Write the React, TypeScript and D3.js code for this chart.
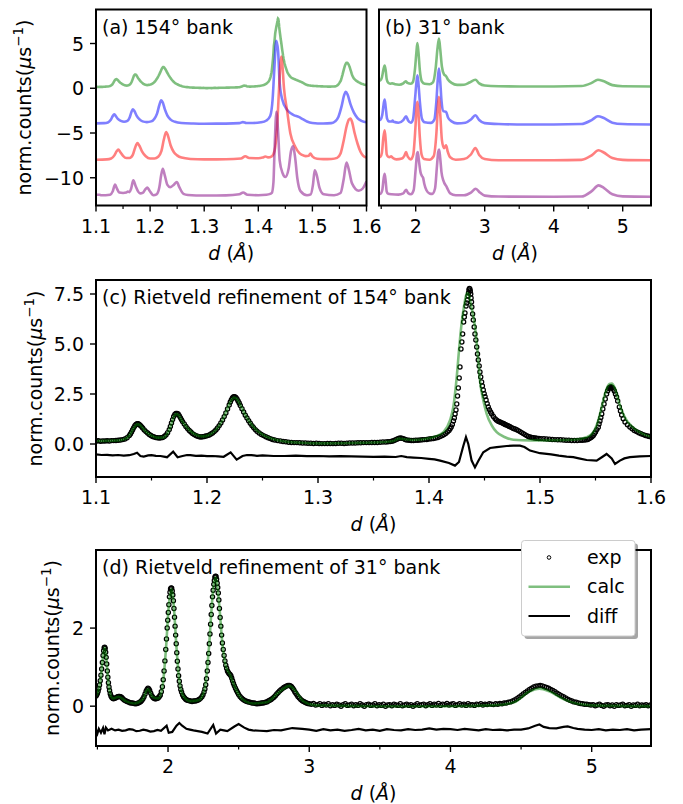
import React from "react";
import * as d3 from "d3";

type P = [number, number];

const FONT = "'DejaVu Sans', sans-serif";
const FS = 19;

// ---------- 154° bank ----------
const exp154: P[] = [
  [1.1, 0.15], [1.102, 0.16], [1.104, 0.14], [1.106, 0.15], [1.108, 0.15], [1.11, 0.16], [1.112, 0.15],
  [1.114, 0.17], [1.116, 0.17], [1.118, 0.18], [1.12, 0.19], [1.122, 0.2], [1.124, 0.22], [1.126, 0.25],
  [1.128, 0.31], [1.13, 0.42], [1.131, 0.5], [1.132, 0.6], [1.133, 0.71], [1.134, 0.82], [1.135, 0.91],
  [1.136, 0.98], [1.137, 1.01], [1.138, 1.02], [1.139, 0.98], [1.14, 0.93], [1.141, 0.87], [1.142, 0.8],
  [1.1435, 0.7], [1.145, 0.62], [1.1465, 0.55], [1.148, 0.48], [1.1495, 0.43], [1.151, 0.38], [1.1525, 0.35],
  [1.154, 0.32], [1.1555, 0.31], [1.157, 0.3], [1.1585, 0.31], [1.16, 0.33], [1.1615, 0.38], [1.163, 0.45],
  [1.1645, 0.56], [1.166, 0.72], [1.167, 0.88], [1.168, 1.05], [1.169, 1.22], [1.17, 1.38], [1.171, 1.48],
  [1.172, 1.53], [1.173, 1.53], [1.174, 1.5], [1.175, 1.42], [1.176, 1.32], [1.177, 1.22], [1.178, 1.12],
  [1.1795, 1.0], [1.181, 0.88], [1.1825, 0.77], [1.184, 0.68], [1.1855, 0.6], [1.187, 0.52], [1.1885, 0.47],
  [1.19, 0.42], [1.1915, 0.39], [1.193, 0.36], [1.1945, 0.35], [1.196, 0.36], [1.1975, 0.38], [1.199, 0.4],
  [1.2005, 0.42], [1.202, 0.45], [1.2035, 0.5], [1.205, 0.55], [1.2065, 0.62], [1.208, 0.7], [1.2095, 0.8],
  [1.211, 0.92], [1.2125, 1.05], [1.214, 1.2], [1.2155, 1.37], [1.217, 1.55], [1.2185, 1.75], [1.22, 1.95],
  [1.221, 2.1], [1.222, 2.22], [1.223, 2.31], [1.224, 2.37], [1.225, 2.37], [1.226, 2.33], [1.227, 2.25],
  [1.228, 2.15], [1.229, 2.05], [1.23, 1.93], [1.2315, 1.76], [1.233, 1.6], [1.2345, 1.44], [1.236, 1.3],
  [1.2375, 1.16], [1.239, 1.04], [1.2405, 0.92], [1.242, 0.82], [1.2435, 0.72], [1.245, 0.64], [1.247, 0.55],
  [1.249, 0.48], [1.251, 0.42], [1.253, 0.36], [1.255, 0.31], [1.257, 0.27], [1.259, 0.23], [1.261, 0.2],
  [1.2635, 0.17], [1.266, 0.15], [1.2685, 0.13], [1.271, 0.11], [1.2735, 0.09], [1.276, 0.08], [1.2785, 0.07],
  [1.281, 0.07], [1.2835, 0.06], [1.286, 0.05], [1.2885, 0.05], [1.291, 0.04], [1.2935, 0.04], [1.296, 0.03],
  [1.2985, 0.04], [1.301, 0.03], [1.3035, 0.02], [1.306, 0.02], [1.3085, 0.03], [1.311, 0.03], [1.3135, 0.02],
  [1.316, 0.03], [1.3185, 0.04], [1.321, 0.04], [1.3235, 0.03], [1.326, 0.04], [1.3285, 0.05], [1.331, 0.05],
  [1.3335, 0.05], [1.336, 0.06], [1.3385, 0.06], [1.341, 0.07], [1.3435, 0.07], [1.346, 0.07], [1.3485, 0.08],
  [1.351, 0.08], [1.3535, 0.08], [1.356, 0.09], [1.3585, 0.1], [1.361, 0.1], [1.363, 0.11], [1.365, 0.12],
  [1.3665, 0.14], [1.368, 0.16], [1.3695, 0.2], [1.371, 0.24], [1.3725, 0.28], [1.374, 0.3], [1.3755, 0.29],
  [1.377, 0.27], [1.3785, 0.23], [1.38, 0.2], [1.382, 0.19], [1.384, 0.18], [1.386, 0.18], [1.388, 0.19],
  [1.39, 0.19], [1.392, 0.2], [1.394, 0.21], [1.396, 0.22], [1.398, 0.23], [1.4, 0.25], [1.402, 0.26],
  [1.404, 0.28], [1.406, 0.3], [1.408, 0.33], [1.41, 0.37], [1.412, 0.42], [1.4135, 0.47], [1.415, 0.52],
  [1.4165, 0.6], [1.418, 0.68], [1.419, 0.76], [1.42, 0.85], [1.421, 0.98], [1.422, 1.15], [1.4228, 1.3],
  [1.4235, 1.5], [1.4243, 1.7], [1.425, 2.0], [1.4257, 2.4], [1.4264, 2.8], [1.4272, 3.3], [1.4279, 3.85],
  [1.4288, 4.75], [1.4296, 5.1], [1.4303, 5.5], [1.4312, 6.1], [1.4318, 6.35], [1.4324, 6.55], [1.4334, 6.9],
  [1.434, 7.05], [1.4346, 7.2], [1.4351, 7.4], [1.4356, 7.55], [1.436, 7.7], [1.4364, 7.78], [1.4368, 7.75],
  [1.4372, 7.65], [1.4376, 7.5], [1.4379, 7.3], [1.4383, 7.1], [1.4386, 6.85], [1.4393, 6.5], [1.4399, 6.2],
  [1.4407, 5.85], [1.4414, 5.5], [1.4422, 5.2], [1.443, 4.85], [1.4437, 4.5], [1.4444, 4.2], [1.4452, 3.9],
  [1.4459, 3.6], [1.4466, 3.35], [1.4474, 3.1], [1.4481, 2.9], [1.4489, 2.7], [1.4497, 2.52], [1.4505, 2.37],
  [1.4514, 2.2], [1.4524, 2.02], [1.4534, 1.85], [1.4544, 1.72], [1.4555, 1.6], [1.4565, 1.5], [1.458, 1.38],
  [1.4595, 1.27], [1.4607, 1.2], [1.462, 1.15], [1.463, 1.12], [1.464, 1.1], [1.4652, 1.07], [1.4665, 1.04],
  [1.4675, 1.01], [1.4685, 0.98], [1.4697, 0.95], [1.471, 0.92], [1.472, 0.89], [1.473, 0.86], [1.4745, 0.82],
  [1.476, 0.78], [1.4775, 0.75], [1.479, 0.71], [1.4805, 0.67], [1.482, 0.62], [1.4835, 0.57], [1.485, 0.52],
  [1.4865, 0.47], [1.488, 0.42], [1.4895, 0.38], [1.491, 0.35], [1.4925, 0.33], [1.494, 0.31], [1.4955, 0.3],
  [1.497, 0.29], [1.499, 0.28], [1.501, 0.27], [1.5035, 0.26], [1.506, 0.25], [1.5085, 0.24], [1.511, 0.23],
  [1.5135, 0.22], [1.516, 0.21], [1.5185, 0.21], [1.521, 0.2], [1.5235, 0.19], [1.526, 0.19], [1.5285, 0.18],
  [1.531, 0.18], [1.5335, 0.18], [1.536, 0.19], [1.538, 0.19], [1.54, 0.2], [1.5415, 0.21], [1.543, 0.23],
  [1.5445, 0.27], [1.546, 0.32], [1.547, 0.37], [1.548, 0.43], [1.549, 0.51], [1.55, 0.6], [1.5512, 0.72],
  [1.5525, 0.84], [1.5532, 1.0], [1.554, 1.15], [1.5548, 1.32], [1.5556, 1.5], [1.5566, 1.75], [1.5577, 2.0],
  [1.5588, 2.25], [1.56, 2.5], [1.561, 2.66], [1.562, 2.78], [1.5627, 2.83], [1.5635, 2.85], [1.5642, 2.85],
  [1.565, 2.82], [1.566, 2.75], [1.567, 2.65], [1.568, 2.5], [1.569, 2.35], [1.57, 2.15], [1.5715, 1.85],
  [1.5725, 1.65], [1.5736, 1.45], [1.575, 1.26], [1.5766, 1.1], [1.5788, 0.96], [1.581, 0.85], [1.583, 0.76],
  [1.585, 0.68], [1.587, 0.62], [1.589, 0.56], [1.591, 0.51], [1.593, 0.47], [1.595, 0.43], [1.597, 0.4],
  [1.5985, 0.38], [1.6, 0.36],
];

const calc154: P[] = [
  [1.1, 0.15], [1.12, 0.18], [1.126, 0.25], [1.13, 0.42], [1.134, 0.8], [1.137, 0.98], [1.139, 0.97],
  [1.142, 0.8], [1.146, 0.56], [1.15, 0.42], [1.155, 0.32], [1.16, 0.32], [1.164, 0.5], [1.167, 0.85],
  [1.17, 1.35], [1.172, 1.5], [1.174, 1.46], [1.177, 1.2], [1.181, 0.88], [1.186, 0.6], [1.191, 0.44],
  [1.196, 0.38], [1.202, 0.45], [1.208, 0.7], [1.214, 1.2], [1.219, 1.85], [1.222, 2.2], [1.2245, 2.32],
  [1.227, 2.25], [1.23, 1.95], [1.235, 1.4], [1.24, 0.98], [1.246, 0.62], [1.253, 0.38], [1.261, 0.22],
  [1.271, 0.12], [1.285, 0.06], [1.3, 0.03], [1.33, 0.05], [1.36, 0.1], [1.368, 0.15], [1.373, 0.27],
  [1.378, 0.24], [1.385, 0.2], [1.395, 0.24], [1.405, 0.36], [1.4129, 0.59], [1.4189, 1.18], [1.4219, 1.85],
  [1.425, 3.36], [1.4273, 4.86], [1.4294, 6.04], [1.4315, 6.87], [1.433, 7.35], [1.4345, 7.55], [1.436, 7.45],
  [1.438, 6.9], [1.4399, 6.4], [1.4414, 5.87], [1.4444, 4.2], [1.4459, 3.19], [1.4489, 2.19], [1.4519, 1.52],
  [1.4565, 0.93], [1.461, 0.59], [1.4685, 0.34], [1.476, 0.21], [1.491, 0.18], [1.506, 0.18], [1.53, 0.21],
  [1.542, 0.34], [1.548, 0.59], [1.5525, 1.18], [1.5556, 1.85], [1.5586, 2.52], [1.5625, 3.0], [1.5646, 3.02],
  [1.5676, 2.77], [1.5706, 2.19], [1.5736, 1.68], [1.5781, 1.18], [1.581, 0.98], [1.586, 0.72], [1.592, 0.52],
  [1.6, 0.36],
];

const diff154: P[] = [
  [1.1, -0.52], [1.105, -0.55], [1.11, -0.54], [1.115, -0.57], [1.12, -0.55], [1.125, -0.58], [1.13, -0.56],
  [1.134, -0.5], [1.137, -0.44], [1.14, -0.6], [1.143, -0.63], [1.147, -0.57], [1.15, -0.56], [1.154, -0.59],
  [1.158, -0.6], [1.164, -0.66], [1.1695, -0.38], [1.1735, -0.66], [1.178, -0.6], [1.182, -0.55], [1.185, -0.56],
  [1.19, -0.59], [1.195, -0.58], [1.2, -0.61], [1.205, -0.6], [1.21, -0.62], [1.215, -0.64], [1.2213, -0.42],
  [1.2267, -0.78], [1.232, -0.6], [1.236, -0.55], [1.24, -0.56], [1.245, -0.59], [1.25, -0.57], [1.26, -0.6],
  [1.27, -0.6], [1.28, -0.58], [1.29, -0.61], [1.3, -0.6], [1.31, -0.62], [1.32, -0.61], [1.33, -0.62],
  [1.34, -0.63], [1.35, -0.64], [1.36, -0.63], [1.37, -0.65], [1.375, -0.6], [1.38, -0.66], [1.386, -0.68],
  [1.393, -0.7], [1.4, -0.74], [1.405, -0.77], [1.41, -0.83], [1.418, -0.95], [1.4234, -1.08], [1.427, -0.9],
  [1.4309, -0.1], [1.4333, 0.34], [1.4354, 0.0], [1.4384, -0.83], [1.4414, -1.17], [1.4444, -0.85],
  [1.4489, -0.41], [1.455, -0.2], [1.461, -0.16], [1.47, -0.1], [1.476, -0.08], [1.482, -0.08], [1.486, -0.15],
  [1.491, -0.33], [1.5, -0.46], [1.51, -0.52], [1.517, -0.58], [1.524, -0.63], [1.53, -0.66], [1.535, -0.72],
  [1.542, -0.8], [1.551, -0.83], [1.556, -0.65], [1.56, -0.5], [1.5646, -0.72], [1.5676, -1.0], [1.572, -0.83],
  [1.576, -0.72], [1.581, -0.66], [1.59, -0.62], [1.6, -0.6],
];

const blue154: P[] = [
  [1.1, 0.08], [1.115, 0.1], [1.122, 0.18], [1.127, 0.45], [1.131, 0.9], [1.1335, 1.1], [1.136, 0.95],
  [1.14, 0.6], [1.146, 0.35], [1.152, 0.25], [1.158, 0.35], [1.162, 0.7], [1.1655, 1.35], [1.168, 1.65],
  [1.171, 1.45], [1.175, 0.95], [1.18, 0.55], [1.186, 0.3], [1.194, 0.22], [1.202, 0.3], [1.208, 0.6],
  [1.213, 1.2], [1.217, 2.1], [1.2205, 2.65], [1.2235, 2.4], [1.227, 1.7], [1.232, 0.95], [1.238, 0.5],
  [1.246, 0.25], [1.258, 0.12], [1.28, 0.06], [1.3, 0.04], [1.34, 0.05], [1.365, 0.1], [1.3716, 0.22],
  [1.378, 0.12], [1.39, 0.12], [1.405, 0.2], [1.415, 0.4], [1.422, 0.9], [1.4265, 2.8], [1.4295, 6.0],
  [1.4333, 9.3], [1.4365, 8.2], [1.4395, 4.6], [1.444, 2.8], [1.4531, 1.6], [1.46, 1.2], [1.4655, 1.0],
  [1.4747, 0.8], [1.482, 0.55], [1.49, 0.28], [1.5, 0.12], [1.52, 0.06], [1.535, 0.1], [1.542, 0.3],
  [1.548, 0.8], [1.554, 2.0], [1.5585, 3.2], [1.5617, 3.6], [1.565, 3.3], [1.5705, 2.2], [1.5765, 1.3],
  [1.583, 0.7], [1.589, 0.4], [1.595, 0.25], [1.6, 0.2],
];

const red154: P[] = [
  [1.1, 0.02], [1.12, 0.05], [1.128, 0.15], [1.134, 0.5], [1.138, 0.95], [1.1413, 1.14], [1.145, 0.85],
  [1.15, 0.45], [1.156, 0.2], [1.162, 0.2], [1.168, 0.55], [1.172, 1.3], [1.1765, 1.88], [1.18, 1.6],
  [1.185, 0.95], [1.192, 0.4], [1.2, 0.15], [1.208, 0.15], [1.215, 0.35], [1.221, 1.0], [1.2255, 2.3],
  [1.2296, 3.12], [1.233, 2.7], [1.238, 1.6], [1.244, 0.85], [1.2499, 0.5], [1.258, 0.25], [1.2746, 0.1],
  [1.3, 0.05], [1.34, 0.06], [1.368, 0.15], [1.376, 0.4], [1.383, 0.2], [1.4, 0.18], [1.408, 0.25],
  [1.413, 0.38], [1.418, 0.28], [1.425, 0.4], [1.43, 1.0], [1.4345, 3.5], [1.438, 7.5], [1.441, 10.8],
  [1.4425, 11.55], [1.4445, 10.6], [1.4475, 8.0], [1.4531, 5.55], [1.4593, 2.94], [1.4685, 1.44],
  [1.476, 0.75], [1.481, 0.55], [1.4875, 0.42], [1.4932, 0.45], [1.4963, 0.7], [1.5, 0.4], [1.5086, 0.12],
  [1.52, 0.08], [1.535, 0.1], [1.5457, 0.22], [1.552, 0.7], [1.558, 2.2], [1.563, 3.7], [1.5675, 4.5],
  [1.5704, 4.62], [1.5735, 4.2], [1.578, 3.0], [1.5835, 1.8], [1.5889, 0.9], [1.594, 0.45], [1.6, 0.25],
];

const purple154: P[] = [
  [1.1, 0.1], [1.106, 0.1], [1.11, 0.05], [1.118, 0.05], [1.126, 0.1], [1.131, 0.5], [1.1352, 1.23],
  [1.139, 0.75], [1.143, 0.35], [1.15, 0.3], [1.156, 0.35], [1.159, 0.45], [1.162, 0.4], [1.165, 0.8],
  [1.169, 1.71], [1.173, 1.1], [1.178, 0.45], [1.1815, 0.25], [1.187, 0.35], [1.191, 0.7], [1.195, 0.9],
  [1.199, 0.55], [1.2062, 0.05], [1.212, 0.15], [1.217, 0.9], [1.2205, 2.3], [1.2235, 3.0], [1.227, 2.3],
  [1.232, 1.2], [1.237, 0.95], [1.2435, 1.2], [1.2494, 1.52], [1.254, 0.95], [1.2617, 0.2], [1.27, 0.08],
  [1.3, 0.02], [1.34, 0.03], [1.365, 0.15], [1.372, 0.35], [1.38, 0.1], [1.4, 0.05], [1.415, 0.1],
  [1.422, 0.2], [1.425, 0.3], [1.428, 1.5], [1.43, 5.0], [1.4318, 8.0], [1.4333, 9.36], [1.4365, 7.2],
  [1.4395, 3.95], [1.445, 2.5], [1.45, 2.08], [1.456, 3.0], [1.4605, 5.0], [1.4642, 5.51], [1.468, 4.3],
  [1.472, 2.0], [1.478, 0.5], [1.49, 0.05], [1.497, 0.15], [1.501, 1.2], [1.5043, 2.83], [1.508, 2.3],
  [1.513, 0.9], [1.521, 0.15], [1.54, 0.05], [1.552, 0.3], [1.558, 1.9], [1.563, 3.69], [1.567, 3.0],
  [1.573, 1.4], [1.5857, 0.55], [1.593, 0.8], [1.6, 1.6],
];

// ---------- 31° bank ----------
const green31: P[] = [
  [1.47, 0.85], [1.49, 0.9], [1.51, 1.2], [1.53, 2.0], [1.55, 2.55], [1.565, 2.0], [1.58, 1.0], [1.6, 0.62],
  [1.63, 0.5], [1.66, 0.55], [1.7, 0.45], [1.76, 0.4], [1.82, 0.55], [1.855, 0.78], [1.88, 0.6], [1.93, 0.5],
  [1.96, 0.7], [1.99, 2.2], [2.01, 4.0], [2.024, 5.05], [2.04, 4.0], [2.06, 2.0], [2.09, 0.75], [2.13, 0.5],
  [2.2, 0.45], [2.25, 0.65], [2.29, 2.3], [2.315, 4.4], [2.337, 5.55], [2.355, 4.4], [2.38, 2.4], [2.41, 1.55],
  [2.44, 1.35], [2.47, 0.95], [2.52, 0.6], [2.6, 0.38], [2.7, 0.4], [2.78, 0.65], [2.865, 0.95], [2.92, 0.55],
  [3.0, 0.3], [3.2, 0.22], [3.5, 0.2], [4.0, 0.2], [4.4, 0.25], [4.55, 0.6], [4.64, 0.95], [4.72, 0.8],
  [4.85, 0.35], [5.0, 0.22], [5.41, 0.2],
];

const blue31: P[] = [
  [1.47, 0.45], [1.49, 0.5], [1.515, 1.0], [1.535, 2.2], [1.55, 2.74], [1.565, 1.9], [1.585, 0.6],
  [1.61, 0.3], [1.65, 0.28], [1.665, 0.38], [1.68, 0.25], [1.75, 0.15], [1.82, 0.45], [1.86, 0.87],
  [1.89, 0.4], [1.93, 0.15], [1.96, 0.5], [1.99, 2.8], [2.01, 4.6], [2.025, 5.46], [2.04, 4.5], [2.06, 2.5],
  [2.09, 0.6], [2.13, 0.2], [2.22, 0.13], [2.27, 0.5], [2.3, 2.6], [2.32, 5.0], [2.337, 6.2], [2.355, 4.8],
  [2.375, 2.5], [2.4, 1.45], [2.44, 1.36], [2.47, 0.7], [2.52, 0.3], [2.6, 0.08], [2.72, 0.15], [2.8, 0.5],
  [2.865, 0.99], [2.92, 0.45], [3.0, 0.1], [3.2, 0.0], [3.6, -0.05], [4.0, -0.05], [4.4, 0.0], [4.55, 0.45],
  [4.64, 0.87], [4.72, 0.7], [4.85, 0.15], [5.0, 0.0], [5.41, -0.05],
];

const red31: P[] = [
  [1.47, 0.3], [1.49, 0.35], [1.51, 0.8], [1.53, 2.4], [1.55, 3.31], [1.565, 2.2], [1.58, 0.6], [1.6, 0.35],
  [1.62, 0.3], [1.645, 0.4], [1.67, 0.2], [1.72, 0.05], [1.8, 0.15], [1.835, 0.45], [1.86, 0.87],
  [1.885, 0.35], [1.93, 0.05], [1.965, 0.6], [1.995, 3.5], [2.012, 5.8], [2.025, 6.48], [2.04, 5.2],
  [2.06, 2.5], [2.085, 0.6], [2.12, 0.1], [2.2, 0.02], [2.26, 0.4], [2.3, 3.0], [2.322, 6.0], [2.337, 7.04],
  [2.355, 5.2], [2.38, 2.2], [2.41, 1.3], [2.44, 1.63], [2.465, 0.9], [2.5, 0.3], [2.58, 0.02], [2.7, 0.1],
  [2.8, 0.6], [2.865, 1.33], [2.92, 0.55], [3.0, 0.1], [3.2, -0.05], [4.0, -0.05], [4.4, 0.0], [4.55, 0.5],
  [4.65, 1.07], [4.72, 0.85], [4.85, 0.2], [5.0, 0.0], [5.41, -0.05],
];

const purple31: P[] = [
  [1.47, 0.2], [1.49, 0.22], [1.515, 0.6], [1.535, 1.9], [1.55, 2.45], [1.565, 1.6], [1.58, 0.45],
  [1.6, 0.2], [1.65, 0.15], [1.75, 0.12], [1.82, 0.25], [1.86, 0.66], [1.89, 0.3], [1.93, 0.15], [1.97, 0.6],
  [2.0, 3.0], [2.02, 4.7], [2.03, 4.88], [2.045, 4.0], [2.07, 2.6], [2.09, 2.2], [2.107, 2.0], [2.125, 1.3],
  [2.156, 0.6], [2.2, 0.25], [2.24, 0.2], [2.28, 0.8], [2.31, 3.5], [2.327, 4.9], [2.34, 5.14], [2.355, 4.2],
  [2.374, 2.6], [2.4, 1.7], [2.45, 0.96], [2.5, 0.25], [2.58, 0.05], [2.7, 0.05], [2.8, 0.35], [2.87, 0.77],
  [2.93, 0.35], [3.0, 0.0], [3.2, -0.1], [4.0, -0.12], [4.4, -0.1], [4.55, 0.5], [4.65, 1.15], [4.73, 0.85],
  [4.85, 0.15], [5.0, -0.08], [5.41, -0.12],
];

const exp31: P[] = [
  [1.49, 0.26], [1.495, 0.29], [1.5, 0.33], [1.505, 0.38], [1.51, 0.45], [1.515, 0.54], [1.52, 0.65],
  [1.525, 0.79], [1.53, 0.95], [1.535, 1.12], [1.54, 1.3], [1.544, 1.42], [1.548, 1.5], [1.5515, 1.51],
  [1.555, 1.48], [1.5585, 1.38], [1.562, 1.25], [1.566, 1.08], [1.57, 0.9], [1.574, 0.74], [1.578, 0.6],
  [1.582, 0.49], [1.586, 0.4], [1.591, 0.32], [1.596, 0.26], [1.602, 0.22], [1.608, 0.2], [1.614, 0.19],
  [1.62, 0.2], [1.6275, 0.21], [1.635, 0.22], [1.6425, 0.24], [1.65, 0.25], [1.6575, 0.25], [1.665, 0.24],
  [1.6725, 0.22], [1.68, 0.19], [1.69, 0.16], [1.7, 0.14], [1.71, 0.12], [1.72, 0.11], [1.73, 0.09],
  [1.74, 0.08], [1.75, 0.08], [1.76, 0.07], [1.77, 0.06], [1.78, 0.07], [1.79, 0.08], [1.8, 0.1],
  [1.8075, 0.12], [1.815, 0.15], [1.8225, 0.19], [1.83, 0.24], [1.8375, 0.31], [1.845, 0.38], [1.8515, 0.43],
  [1.858, 0.46], [1.864, 0.44], [1.87, 0.4], [1.8775, 0.33], [1.885, 0.27], [1.8925, 0.23], [1.9, 0.2],
  [1.9075, 0.19], [1.915, 0.19], [1.9225, 0.2], [1.93, 0.21], [1.9375, 0.24], [1.945, 0.28], [1.9525, 0.37],
  [1.96, 0.5], [1.966, 0.68], [1.972, 0.9], [1.978, 1.16], [1.984, 1.45], [1.989, 1.72], [1.994, 2.0],
  [1.998, 2.2], [2.002, 2.4], [2.006, 2.6], [2.01, 2.8], [2.014, 2.92], [2.018, 3.0], [2.022, 3.03],
  [2.026, 3.02], [2.03, 2.95], [2.034, 2.85], [2.038, 2.7], [2.042, 2.5], [2.046, 2.28], [2.05, 2.05],
  [2.054, 1.82], [2.058, 1.6], [2.062, 1.37], [2.066, 1.15], [2.0705, 0.95], [2.075, 0.78], [2.08, 0.64],
  [2.085, 0.52], [2.0905, 0.43], [2.096, 0.36], [2.103, 0.29], [2.11, 0.24], [2.1175, 0.21], [2.125, 0.18],
  [2.1325, 0.16], [2.14, 0.15], [2.15, 0.14], [2.16, 0.13], [2.17, 0.12], [2.18, 0.13], [2.19, 0.13],
  [2.2, 0.14], [2.21, 0.15], [2.22, 0.17], [2.23, 0.2], [2.24, 0.24], [2.2475, 0.29], [2.255, 0.36],
  [2.261, 0.44], [2.267, 0.55], [2.2725, 0.7], [2.278, 0.9], [2.283, 1.12], [2.288, 1.35], [2.2925, 1.6],
  [2.297, 1.85], [2.3015, 2.1], [2.306, 2.35], [2.3105, 2.58], [2.315, 2.8], [2.3195, 2.97], [2.324, 3.12],
  [2.328, 3.22], [2.332, 3.3], [2.336, 3.33], [2.34, 3.32], [2.344, 3.25], [2.348, 3.15], [2.352, 3.04],
  [2.356, 2.9], [2.36, 2.72], [2.364, 2.5], [2.369, 2.27], [2.374, 2.05], [2.3795, 1.82], [2.385, 1.62],
  [2.391, 1.45], [2.397, 1.3], [2.403, 1.16], [2.409, 1.05], [2.415, 0.97], [2.421, 0.9], [2.427, 0.86],
  [2.433, 0.83], [2.439, 0.81], [2.445, 0.78], [2.451, 0.72], [2.457, 0.65], [2.4635, 0.58], [2.47, 0.52],
  [2.4775, 0.46], [2.485, 0.4], [2.4925, 0.35], [2.5, 0.3], [2.51, 0.25], [2.52, 0.21], [2.53, 0.18],
  [2.54, 0.15], [2.55, 0.13], [2.56, 0.12], [2.57, 0.11], [2.58, 0.1], [2.59, 0.09], [2.6, 0.08],
  [2.61, 0.08], [2.62, 0.07], [2.63, 0.06], [2.64, 0.07], [2.65, 0.07], [2.66, 0.08], [2.67, 0.08],
  [2.68, 0.09], [2.69, 0.1], [2.7, 0.11], [2.71, 0.13], [2.72, 0.15], [2.73, 0.17], [2.74, 0.2],
  [2.75, 0.23], [2.76, 0.27], [2.77, 0.31], [2.78, 0.35], [2.79, 0.39], [2.8, 0.42], [2.81, 0.45],
  [2.82, 0.48], [2.83, 0.5], [2.84, 0.52], [2.85, 0.53], [2.86, 0.53], [2.8675, 0.52], [2.875, 0.5],
  [2.8825, 0.46], [2.89, 0.42], [2.8975, 0.37], [2.905, 0.33], [2.9125, 0.29], [2.92, 0.25], [2.93, 0.21],
  [2.94, 0.17], [2.95, 0.14], [2.96, 0.12], [2.97, 0.1], [2.98, 0.08], [2.99, 0.07], [3.0, 0.06],
  [3.015, 0.05], [3.03, 0.07], [3.045, 0.03], [3.06, 0.04], [3.075, 0.06], [3.09, 0.02], [3.105, 0.05],
  [3.12, 0.03], [3.135, 0.06], [3.15, 0.01], [3.165, 0.04], [3.18, 0.02], [3.195, 0.05], [3.21, 0.03],
  [3.225, 0.0], [3.24, 0.04], [3.255, 0.06], [3.27, 0.02], [3.285, 0.03], [3.3, 0.05], [3.315, 0.01],
  [3.33, 0.04], [3.345, 0.02], [3.36, 0.06], [3.375, 0.03], [3.39, 0.0], [3.405, 0.04], [3.42, 0.05],
  [3.435, 0.02], [3.45, 0.03], [3.465, 0.06], [3.48, 0.01], [3.495, 0.04], [3.51, 0.02], [3.525, 0.05],
  [3.54, 0.0], [3.555, 0.03], [3.57, 0.04], [3.585, 0.01], [3.6, 0.05], [3.615, 0.03], [3.63, 0.02],
  [3.645, 0.06], [3.66, 0.01], [3.675, 0.03], [3.69, 0.05], [3.705, 0.02], [3.72, 0.04], [3.735, 0.0],
  [3.75, 0.03], [3.765, 0.06], [3.78, 0.02], [3.795, 0.04], [3.81, 0.05], [3.825, 0.01], [3.84, 0.04],
  [3.855, 0.06], [3.87, 0.02], [3.885, 0.05], [3.9, 0.03], [3.915, 0.07], [3.93, 0.02], [3.945, 0.05],
  [3.96, 0.04], [3.975, 0.07], [3.99, 0.03], [4.005, 0.05], [4.02, 0.06], [4.035, 0.02], [4.05, 0.04],
  [4.065, 0.06], [4.08, 0.03], [4.095, 0.05], [4.11, 0.02], [4.125, 0.06], [4.14, 0.03], [4.155, 0.04],
  [4.17, 0.02], [4.185, 0.05], [4.2, 0.04], [4.215, 0.06], [4.23, 0.03], [4.245, 0.05], [4.26, 0.04],
  [4.275, 0.06], [4.29, 0.05], [4.305, 0.04], [4.32, 0.06], [4.335, 0.05], [4.35, 0.07], [4.365, 0.06],
  [4.38, 0.08], [4.395, 0.08], [4.41, 0.1], [4.425, 0.11], [4.44, 0.13], [4.455, 0.16], [4.47, 0.19],
  [4.485, 0.23], [4.5, 0.27], [4.515, 0.31], [4.53, 0.35], [4.545, 0.39], [4.56, 0.43], [4.575, 0.46],
  [4.59, 0.49], [4.605, 0.51], [4.62, 0.52], [4.635, 0.53], [4.65, 0.52], [4.665, 0.5], [4.68, 0.48],
  [4.695, 0.46], [4.71, 0.43], [4.725, 0.4], [4.74, 0.37], [4.755, 0.33], [4.77, 0.3], [4.785, 0.27],
  [4.8, 0.24], [4.815, 0.21], [4.83, 0.18], [4.845, 0.15], [4.86, 0.13], [4.875, 0.11], [4.89, 0.1],
  [4.905, 0.08], [4.92, 0.07], [4.935, 0.06], [4.95, 0.05], [4.965, 0.05], [4.98, 0.04], [4.995, 0.03],
  [5.01, 0.04], [5.025, 0.01], [5.04, 0.03], [5.055, 0.05], [5.07, 0.02], [5.085, 0.0], [5.1, 0.03],
  [5.115, 0.04], [5.13, 0.01], [5.145, 0.03], [5.16, 0.0], [5.175, 0.04], [5.19, 0.02], [5.205, 0.03],
  [5.22, 0.05], [5.235, 0.01], [5.25, 0.02], [5.265, 0.04], [5.28, 0.0], [5.295, 0.03], [5.31, 0.02],
  [5.325, 0.05], [5.34, 0.01], [5.355, 0.03], [5.37, 0.02], [5.385, 0.04], [5.4, 0.01], [5.415, 0.03],
];

const calc31: P[] = [
  [1.49, 0.25], [1.52, 0.62], [1.54, 1.28], [1.55, 1.5], [1.56, 1.35], [1.575, 0.7], [1.59, 0.33],
  [1.61, 0.2], [1.65, 0.24], [1.7, 0.13], [1.76, 0.07], [1.82, 0.17], [1.858, 0.44], [1.89, 0.24],
  [1.93, 0.2], [1.96, 0.48], [1.985, 1.45], [2.005, 2.55], [2.024, 3.0], [2.04, 2.6], [2.06, 1.5],
  [2.08, 0.65], [2.11, 0.25], [2.16, 0.13], [2.22, 0.16], [2.26, 0.45], [2.29, 1.5], [2.315, 2.8],
  [2.337, 3.3], [2.36, 2.7], [2.385, 1.6], [2.41, 1.02], [2.44, 0.8], [2.47, 0.52], [2.52, 0.2],
  [2.6, 0.07], [2.7, 0.1], [2.78, 0.34], [2.86, 0.52], [2.9, 0.4], [2.96, 0.12], [3.05, 0.02], [3.5, 0.0],
  [4.0, 0.0], [4.3, 0.02], [4.45, 0.1], [4.55, 0.36], [4.63, 0.45], [4.7, 0.38], [4.8, 0.18], [4.9, 0.06],
  [5.0, 0.02], [5.42, 0.0],
];

const diff31: P[] = [
  [1.49, -0.6], [1.5, -0.7], [1.51, -0.58], [1.525, -0.68], [1.54, -0.56], [1.55, -0.72], [1.56, -0.55],
  [1.575, -0.62], [1.6, -0.58], [1.625, -0.62], [1.65, -0.6], [1.675, -0.63], [1.7, -0.62], [1.725, -0.59],
  [1.75, -0.6], [1.775, -0.64], [1.8, -0.63], [1.825, -0.6], [1.85, -0.62], [1.875, -0.65], [1.9, -0.64],
  [1.925, -0.61], [1.95, -0.63], [1.99, -0.5], [2.005, -0.68], [2.03, -0.66], [2.06, -0.5], [2.08, -0.43],
  [2.1, -0.5], [2.13, -0.58], [2.155, -0.6], [2.18, -0.62], [2.21, -0.64], [2.24, -0.66], [2.28, -0.7],
  [2.32, -0.48], [2.34, -0.7], [2.37, -0.6], [2.395, -0.62], [2.42, -0.64], [2.47, -0.52], [2.5, -0.46],
  [2.54, -0.55], [2.57, -0.6], [2.6, -0.62], [2.65, -0.63], [2.7, -0.64], [2.75, -0.61], [2.8, -0.62],
  [2.88, -0.56], [2.95, -0.58], [3.0, -0.6], [3.05, -0.63], [3.1, -0.59], [3.15, -0.62], [3.2, -0.6],
  [3.25, -0.63], [3.3, -0.61], [3.35, -0.58], [3.4, -0.62], [3.45, -0.6], [3.5, -0.63], [3.55, -0.59],
  [3.6, -0.61], [3.65, -0.62], [3.7, -0.59], [3.75, -0.61], [3.8, -0.6], [3.85, -0.57], [3.9, -0.6],
  [3.95, -0.58], [4.0, -0.59], [4.05, -0.61], [4.1, -0.58], [4.15, -0.6], [4.2, -0.62], [4.25, -0.59],
  [4.3, -0.61], [4.35, -0.6], [4.4, -0.62], [4.45, -0.6], [4.5, -0.6], [4.55, -0.57], [4.6, -0.5],
  [4.63, -0.47], [4.66, -0.53], [4.7, -0.56], [4.75, -0.57], [4.8, -0.53], [4.83, -0.52], [4.87, -0.56],
  [4.9, -0.58], [4.95, -0.6], [5.0, -0.61], [5.05, -0.59], [5.1, -0.62], [5.15, -0.6], [5.2, -0.61],
  [5.25, -0.59], [5.3, -0.62], [5.35, -0.6], [5.42, -0.59],
];

const sampleOffsets = [0, -4, -8, -12];
const sampleColors = ["green", "blue", "red", "purple"];
const bank154 = [exp154, blue154, red154, purple154];
const bank31 = [green31, blue31, red31, purple31];

const xTicks154 = [1.1, 1.2, 1.3, 1.4, 1.5, 1.6];
const xMinor154 = [1.15, 1.25, 1.35, 1.45, 1.55];
const xTicks31 = [2, 3, 4, 5];
const xMinor31 = [1.5, 2.5, 3.5, 4.5];
const yTicksA = [5, 0, -5, -10];
const yTicksC = [0, 2.5, 5, 7.5];
const yTicksD = [0, 2];

const legendItems = ["exp", "calc", "diff"];

const fmtMinus = (s: string) => s.replace("-", "\u2212");

type PanelProps = {
  id: string;
  x: d3.ScaleLinear<number, number>;
  y: d3.ScaleLinear<number, number>;
  xTicks: number[];
  xMinor: number[];
  xFmt: (v: number) => string;
  yTicks?: number[];
  yFmt?: (v: number) => string;
  title: React.ReactNode;
  ylabelX?: number;
  children?: React.ReactNode;
};

function YLabel({ x, y }: { x: number; y: number }) {
  return (
    <text transform={`translate(${x},${y}) rotate(-90)`} textAnchor="middle" fontSize={FS}>
      norm.counts(<tspan fontStyle="italic">μ</tspan>s
      <tspan dy={-8} fontSize={13.5}>{"\u22121"}</tspan>
      <tspan dy={8}>)</tspan>
    </text>
  );
}

function Panel(p: PanelProps) {
  const [L, R] = p.x.range();
  const [B, T] = p.y.range();
  return (
    <g>
      <defs>
        <clipPath id={p.id}>
          <rect x={L} y={T} width={R - L} height={B - T} />
        </clipPath>
      </defs>
      <g clipPath={`url(#${p.id})`}>{p.children}</g>
      {p.xMinor.map((t) => (
        <line key={"m" + t} x1={p.x(t)} x2={p.x(t)} y1={B} y2={B + 3.5} stroke="#000" strokeWidth={1.2} />
      ))}
      {p.xTicks.map((t) => (
        <g key={"x" + t}>
          <line x1={p.x(t)} x2={p.x(t)} y1={B} y2={B + 6} stroke="#000" strokeWidth={1.4} />
          <text x={p.x(t)} y={B + 27} textAnchor="middle" fontSize={FS}>
            {p.xFmt(t)}
          </text>
        </g>
      ))}
      {p.yTicks &&
        p.yTicks.map((t) => (
          <g key={"y" + t}>
            <line x1={L - 6} x2={L} y1={p.y(t)} y2={p.y(t)} stroke="#000" strokeWidth={1.4} />
            <text x={L - 12} y={p.y(t) + 7} textAnchor="end" fontSize={FS}>
              {p.yFmt ? p.yFmt(t) : String(t)}
            </text>
          </g>
        ))}
      <rect x={L} y={T} width={R - L} height={B - T} fill="none" stroke="#000" strokeWidth={2} />
      <text x={L + 6} y={T + 24} fontSize={FS}>
        {p.title}
      </text>
      <text x={(L + R) / 2} y={B + 54} textAnchor="middle" fontSize={FS}>
        <tspan fontStyle="italic">d</tspan> (<tspan fontStyle="italic">Å</tspan>)
      </text>
      {p.ylabelX !== undefined && <YLabel x={p.ylabelX} y={(T + B) / 2} />}
    </g>
  );
}

export default function App() {
  const xA = d3.scaleLinear().domain([1.1, 1.6]).range([96, 366.5]);
  const yAB = d3.scaleLinear().domain([-13.1, 8.8]).range([205.5, 9.5]);
  const xB = d3.scaleLinear().domain([1.468, 5.41]).range([379, 651]);
  const xC = d3.scaleLinear().domain([1.1, 1.6]).range([96, 651]);
  const yC = d3.scaleLinear().domain([-1.65, 8.2]).range([477, 280]);
  const xD = d3.scaleLinear().domain([1.49, 5.42]).range([96, 651]);
  const yD = d3.scaleLinear().domain([-1.02, 4.0]).range([746, 550]);

  const lineOf = (x: d3.ScaleLinear<number, number>, y: d3.ScaleLinear<number, number>, off = 0, smooth = true) =>
    d3
      .line<P>()
      .x((d) => x(d[0]))
      .y((d) => y(d[1] + off))
      .curve(smooth ? d3.curveMonotoneX : d3.curveLinear);

  const legX = 521.5;
  const legY = 540.5;

  return (
    <svg
      width={683}
      height={804}
      style={{ position: "absolute", left: 0, top: 0, background: "#fff" }}
      fontFamily={FONT}
    >
      <rect x={0} y={0} width={683} height={804} fill="#fff" />

      {/* (a) */}
      <Panel
        id="clipA"
        x={xA}
        y={yAB}
        xTicks={xTicks154}
        xMinor={xMinor154}
        xFmt={(v) => v.toFixed(1)}
        yTicks={yTicksA}
        yFmt={(v) => fmtMinus(String(v))}
        title={<>(a) 154° bank</>}
        ylabelX={31}
      >
        {bank154.map((s, i) => (
          <path
            key={i}
            d={lineOf(xA, yAB, sampleOffsets[i], i !== 0)(s) || ""}
            fill="none"
            stroke={sampleColors[i]}
            strokeOpacity={0.5}
            strokeWidth={2.6}
          />
        ))}
      </Panel>

      {/* (b) */}
      <Panel
        id="clipB"
        x={xB}
        y={yAB}
        xTicks={xTicks31}
        xMinor={xMinor31}
        xFmt={(v) => String(v)}
        title={<>(b) 31° bank</>}
      >
        {bank31.map((s, i) => (
          <path
            key={i}
            d={lineOf(xB, yAB, sampleOffsets[i])(s) || ""}
            fill="none"
            stroke={sampleColors[i]}
            strokeOpacity={0.5}
            strokeWidth={2.6}
          />
        ))}
      </Panel>

      {/* (c) */}
      <Panel
        id="clipC"
        x={xC}
        y={yC}
        xTicks={xTicks154}
        xMinor={xMinor154}
        xFmt={(v) => v.toFixed(1)}
        yTicks={yTicksC}
        yFmt={(v) => v.toFixed(1)}
        title={<>(c) Rietveld refinement of 154° bank</>}
        ylabelX={42}
      >
        {exp154.map((p, i) => (
          <circle key={i} cx={xC(p[0])} cy={yC(p[1])} r={2.1} fill="none" stroke="#000" strokeWidth={1.25} />
        ))}
        <path d={lineOf(xC, yC)(calc154) || ""} fill="none" stroke="green" strokeOpacity={0.5} strokeWidth={2.6} />
        <path d={lineOf(xC, yC, 0, false)(diff154) || ""} fill="none" stroke="#000" strokeWidth={2.2} />
      </Panel>

      {/* (d) */}
      <Panel
        id="clipD"
        x={xD}
        y={yD}
        xTicks={xTicks31}
        xMinor={xMinor31}
        xFmt={(v) => String(v)}
        yTicks={yTicksD}
        yFmt={(v) => String(v)}
        title={<>(d) Rietveld refinement of 31° bank</>}
        ylabelX={59}
      >
        {exp31.map((p, i) => (
          <circle key={i} cx={xD(p[0])} cy={yD(p[1])} r={2.1} fill="none" stroke="#000" strokeWidth={1.25} />
        ))}
        <path d={lineOf(xD, yD)(calc31) || ""} fill="none" stroke="green" strokeOpacity={0.5} strokeWidth={2.6} />
        <path d={lineOf(xD, yD, 0, false)(diff31) || ""} fill="none" stroke="#000" strokeWidth={2.2} />
      </Panel>

      {/* legend */}
      <g>
        <rect x={legX + 3} y={legY + 3} width={113.5} height={95.5} rx={3} fill="#000" fillOpacity={0.35} />
        <rect x={legX} y={legY} width={113.5} height={95.5} rx={3} fill="#fff" stroke="#ccc" strokeWidth={1} />
        {legendItems.map((name, i) => {
          const cy = legY + 17 + i * 29.3;
          return (
            <g key={name}>
              {i === 0 && <circle cx={legX + 27.5} cy={cy} r={1.8} fill="none" stroke="#000" strokeWidth={1} />}
              {i > 0 && (
                <line
                  x1={legX + 7}
                  x2={legX + 48.5}
                  y1={cy}
                  y2={cy}
                  stroke={i === 1 ? "green" : "#000"}
                  strokeOpacity={i === 1 ? 0.5 : 1}
                  strokeWidth={i === 1 ? 2.6 : 2}
                />
              )}
              <text x={legX + 65.5} y={cy + 6.5} fontSize={FS}>
                {name}
              </text>
            </g>
          );
        })}
      </g>
    </svg>
  );
}
